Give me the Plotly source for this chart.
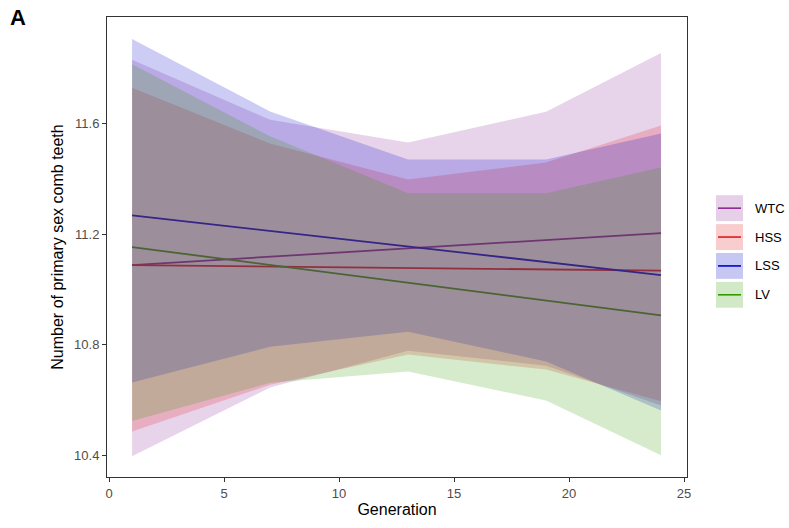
import plotly.graph_objects as go

# ---------------- data ----------------
generations = [1, 7, 13, 19, 24]
groups = ["WTC", "HSS", "LSS", "LV"]

upper = {
    "WTC": [11.831, 11.614, 11.532, 11.643, 11.856],
    "HSS": [11.730, 11.528, 11.398, 11.459, 11.593],
    "LSS": [11.906, 11.644, 11.470, 11.470, 11.564],
    "LV":  [11.815, 11.554, 11.348, 11.348, 11.441],
}
lower = {
    "WTC": [10.396, 10.645, 10.778, 10.724, 10.580],
    "HSS": [10.486, 10.655, 10.764, 10.710, 10.595],
    "LSS": [10.663, 10.792, 10.847, 10.739, 10.562],
    "LV":  [10.524, 10.662, 10.703, 10.598, 10.400],
}
fit_gen = [1, 24]
fit = {
    "WTC": [11.088, 11.204],
    "HSS": [11.088, 11.068],
    "LSS": [11.268, 11.052],
    "LV":  [11.153, 10.906],
}
x_ticks = [0, 5, 10, 15, 20, 25]
y_ticks = [10.4, 10.8, 11.2, 11.6]

# ---------------- styles ----------------
line_col = {"WTC": (140, 40, 150), "HSS": (228, 26, 28), "LSS": (0, 0, 205), "LV": (51, 153, 0)}
ALPHA = 0.2

def rgba(c, a):
    return f"rgba({c[0]},{c[1]},{c[2]},{a})"

def on_white(c, a):
    return "rgb(" + ",".join(str(round(255 * (1 - a) + v * a)) for v in c) + ")"

fig = go.Figure()
# fitted lines first (they sit beneath the translucent ribbons)
for g in groups:
    fig.add_trace(go.Scatter(
        x=fit_gen, y=fit[g], mode="lines",
        line=dict(color=rgba(line_col[g], 1), width=1.8), showlegend=False))
# ribbons
for g in groups:
    fig.add_trace(go.Scatter(
        x=generations + generations[::-1],
        y=upper[g] + lower[g][::-1],
        fill="toself", fillcolor=rgba(line_col[g], ALPHA),
        line=dict(width=0), mode="lines", hoverinfo="skip", showlegend=False))

# ---------------- layout ----------------
W, H = 789, 528
L, R, T, B = 107, 102, 17, 49
pw, ph = W - L - R, H - T - B

def px(x):
    return (x - L) / pw

def py(y):
    return (H - B - y) / ph

axis_common = dict(
    showline=True, mirror=True, linecolor="#333333", linewidth=1,
    ticks="outside", ticklen=4, tickcolor="#333333", tickwidth=1,
    showgrid=False, zeroline=False,
    tickfont=dict(family="Liberation Sans, Arial, sans-serif", size=13, color="#4d4d4d"),
)

fig.update_layout(
    width=W, height=H,
    margin=dict(l=L, r=R, t=T, b=B),
    paper_bgcolor="white", plot_bgcolor="white",
    showlegend=False,
    xaxis=dict(range=[-0.09, 25.13], tickvals=x_ticks,
               title=dict(text="Generation", standoff=4,
                          font=dict(family="Liberation Sans, Arial, sans-serif", size=16, color="black")),
               **axis_common),
    yaxis=dict(range=[10.321, 11.986], tickvals=y_ticks, tickformat=".1f",
               title=dict(text="Number of primary sex comb teeth", standoff=6,
                          font=dict(family="Liberation Sans, Arial, sans-serif", size=16, color="black")),
               **axis_common),
)

# panel label
fig.add_annotation(text="<b>A</b>", xref="paper", yref="paper", x=px(8), y=py(3),
                   xanchor="left", yanchor="top", showarrow=False,
                   font=dict(family="Liberation Sans, Arial, sans-serif", size=22, color="black"))

# manual legend (ggplot style keys)
key_x0, key_x1 = 716, 743
key_tops = [196, 225, 254, 283]
key_h = 26
for g, top in zip(groups, key_tops):
    fig.add_shape(type="rect", xref="paper", yref="paper",
                  x0=px(key_x0), x1=px(key_x1), y0=py(top + key_h), y1=py(top),
                  fillcolor=on_white(line_col[g], 0.22), line=dict(width=0))
    ymid = py(top + key_h / 2)
    fig.add_shape(type="line", xref="paper", yref="paper",
                  x0=px(key_x0 + 2), x1=px(key_x1 - 2), y0=ymid, y1=ymid,
                  line=dict(color=rgba(line_col[g], 1), width=1.6))
    fig.add_annotation(text=g, xref="paper", yref="paper", x=px(753), y=ymid,
                       xanchor="left", yanchor="middle", showarrow=False,
                       font=dict(family="Liberation Sans, Arial, sans-serif", size=13, color="black"))

fig.write_html("out.html")
